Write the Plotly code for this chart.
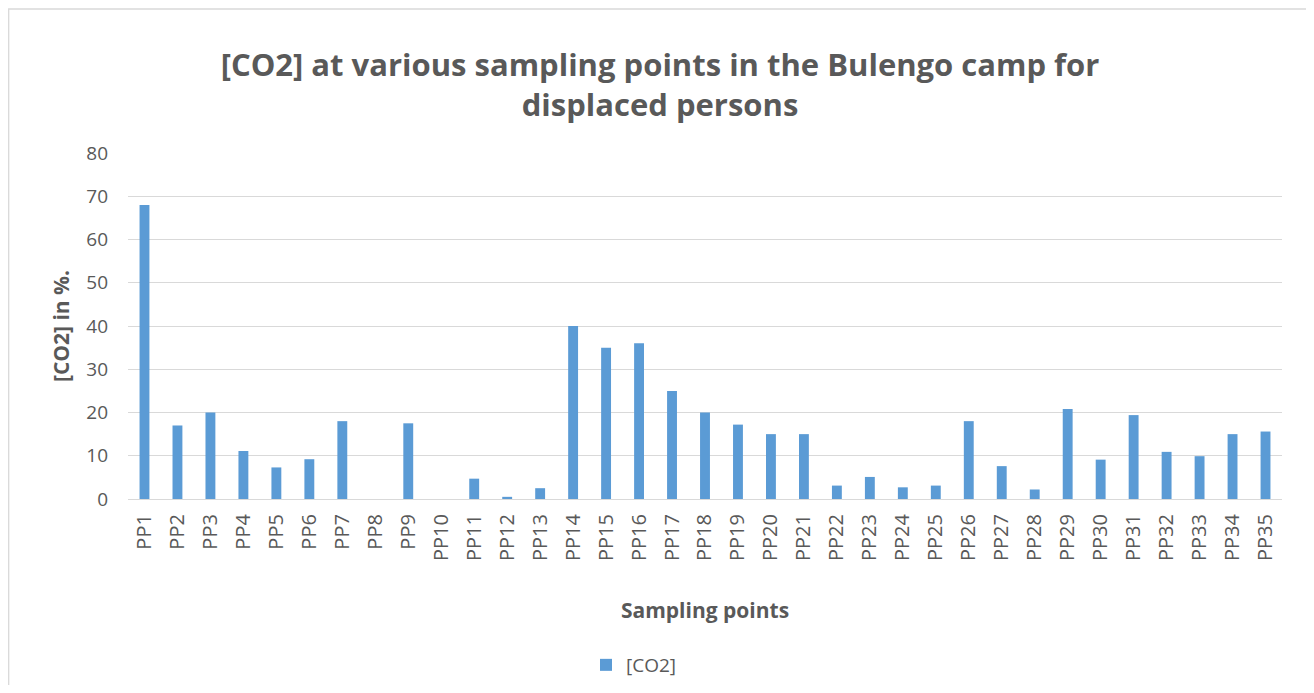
import plotly.graph_objects as go

categories = [f"PP{i}" for i in range(1, 36)]
co2 = [68, 17, 20, 11.1, 7.3, 9.2, 18, 0, 17.5, 0,
       4.7, 0.5, 2.5, 40, 35, 36, 25, 20, 17.2, 15,
       15, 3.1, 5.1, 2.7, 3.1, 18, 7.6, 2.2, 20.8, 9.1,
       19.4, 10.9, 9.9, 15, 15.6]
y_ticks = [0, 10, 20, 30, 40, 50, 60, 70, 80]

OFF = 8  # page body margin
W, H = 1314 - OFF, 693 - OFF - 8
# plot area in reference (screen) coordinates
X0, X1, Y0, Y1 = 128, 1282, 153, 499
L, R, T, B = X0 - OFF, W - (X1 - OFF), Y0 - OFF, H - (Y1 - OFF)
pw, ph = X1 - X0, Y1 - Y0

def px(x):
    return (x - X0) / pw

def py(y):
    return (Y1 - y) / ph

font_fam = "Open Sans, Liberation Sans, sans-serif"
grey = "#595959"

fig = go.Figure()
fig.add_trace(go.Bar(x=categories, y=co2, name="[CO2]", marker_color="#5b9bd5",
                     marker_line_width=0))

fig.update_layout(
    width=W, height=H,
    margin=dict(l=L, r=R, t=T, b=B, autoexpand=False),
    paper_bgcolor="white", plot_bgcolor="white",
    bargap=0.7,
    font=dict(family=font_fam, color=grey),
    title=dict(text="[CO2] at various sampling points in the Bulengo camp for<br>displaced persons",
               xref="container", x=(660 - OFF) / W, xanchor="center",
               yref="container", y=1 - (76 - OFF) / H, yanchor="middle",
               font=dict(size=31, color=grey, family=font_fam, weight="bold")),
    showlegend=True,
    legend=dict(orientation="h", x=px(634), xanchor="center", y=py(665), yanchor="middle",
                font=dict(size=19, color=grey), itemwidth=30),
    xaxis=dict(tickangle=-90, tickfont=dict(size=20, color=grey), showgrid=False,
               showline=True, linecolor="#d9d9d9", linewidth=1.3, ticks="",
               ticklabelstandoff=6, automargin=False,
               title=dict(text="Sampling points", font=dict(size=21, color=grey, weight="bold"),
                          standoff=43)),
    yaxis=dict(range=[0, 80], tickvals=y_ticks, tickfont=dict(size=19, color=grey),
               showgrid=True, gridcolor="#d9d9d9", gridwidth=1.3, zeroline=False,
               ticks="", ticklabelstandoff=19, automargin=False,
               title=dict(text="[CO2] in %.", font=dict(size=21, color=grey, weight="bold"),
                          standoff=10)),
)

fig.add_shape(type="rect", xref="paper", yref="paper",
              x0=px(8.7), x1=px(1311), y0=py(720), y1=py(9),
              line=dict(color="#d9d9d9", width=1.3), fillcolor="rgba(0,0,0,0)", layer="below")

fig.write_html("out.html")
